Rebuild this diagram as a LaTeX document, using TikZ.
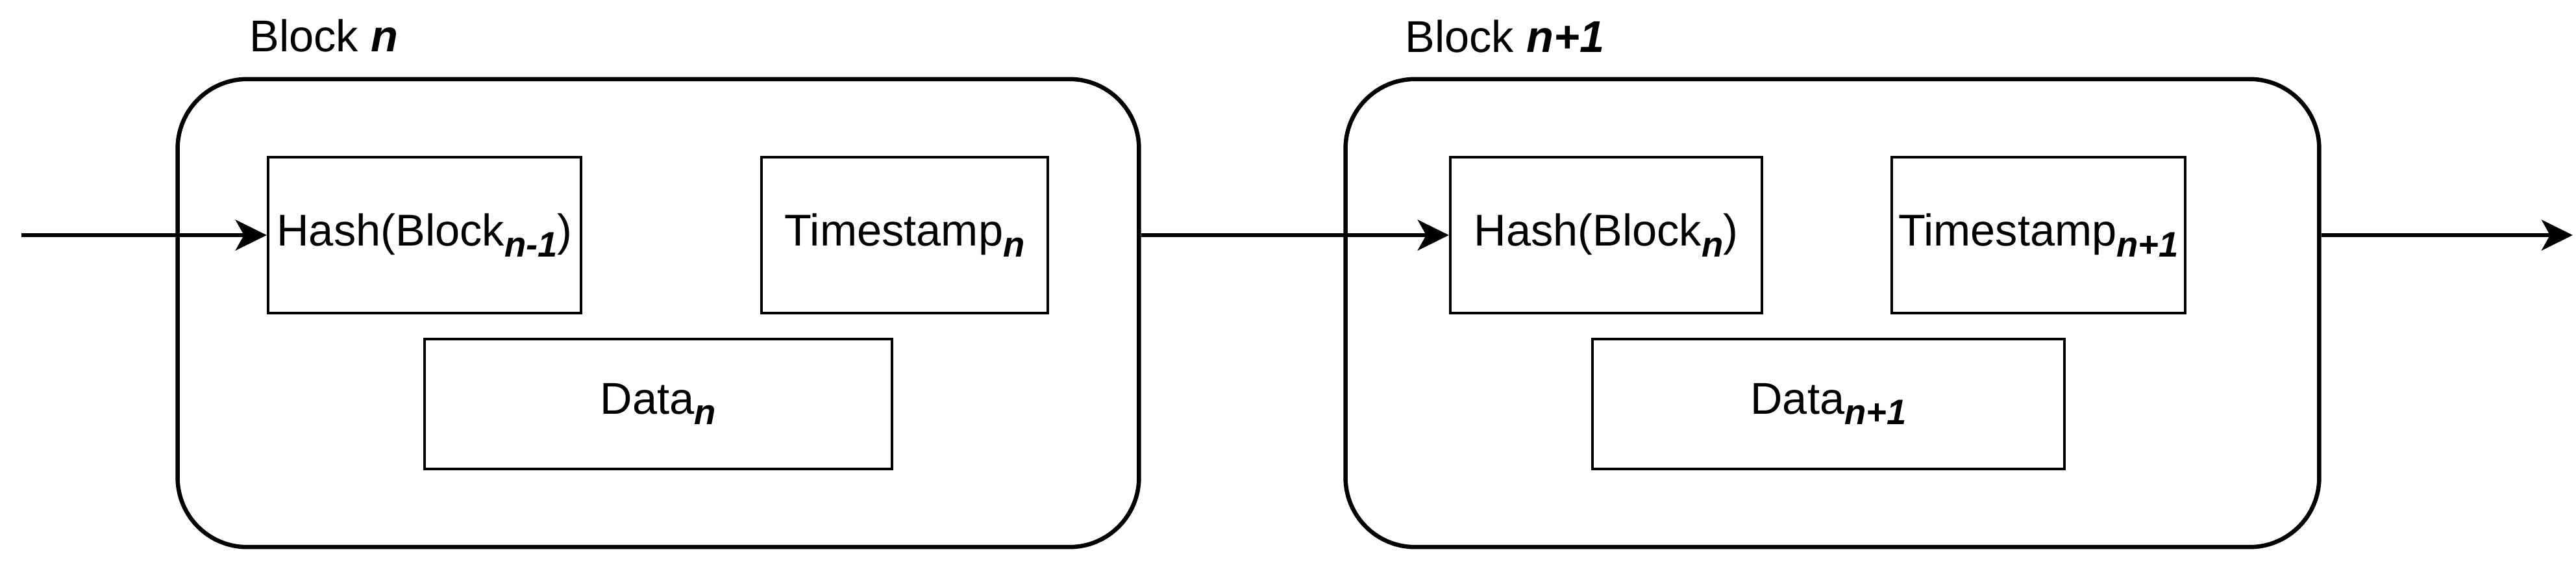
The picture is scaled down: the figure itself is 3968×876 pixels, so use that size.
\documentclass[tikz,border=0pt]{standalone}
\usepackage{fontspec}
\setmainfont{Liberation Sans}
\usetikzlibrary{arrows.meta}

\newcommand{\blksub}[1]{\raisebox{-4.7pt}{\fontsize{15.5pt}{18pt}\selectfont\bfseries\itshape #1}}

\begin{document}
\begin{tikzpicture}[x=0.01cm,y=-0.01cm,
    font=\fontsize{19.5pt}{23pt}\selectfont,
    blockbox/.style={draw,line width=0.065cm,rounded corners=1.07cm,minimum height=7.2cm,inner sep=0pt},
    fieldbox/.style={draw,line width=0.04cm,inner sep=0pt},
    link/.style={line width=0.065cm,-{Stealth[length=0.48cm,width=0.47cm,inset=0.13cm]}}]
            \useasboundingbox (0,0) rectangle (3968,876);

            % Block n
            \node[blockbox,minimum width=14.8cm] (blk1) at (1014,482) {};
            \node[anchor=base west] (lbl1) at (372,80) {Block \textbf{\textit{n}}};
            \node[fieldbox,minimum width=4.82cm,minimum height=2.4cm] (hash1) at (654,362) {Hash(Block\blksub{n-1})};
            \node[fieldbox,minimum width=4.41cm,minimum height=2.4cm] (time1) at (1393.5,362) {Timestamp\blksub{n}};
            \node[fieldbox,minimum width=7.2cm,minimum height=2cm] (data1) at (1014,622) {Data\blksub{n}};

            % Block n+1
            \node[blockbox,minimum width=14.99cm] (blk2) at (2822.5,482) {};
            \node[anchor=base west] (lbl2) at (2152,81) {Block \textbf{\textit{n+1}}};
            \node[fieldbox,minimum width=4.8cm,minimum height=2.4cm] (hash2) at (2474,362) {Hash(Block\blksub{n})};
            \node[fieldbox,minimum width=4.52cm,minimum height=2.4cm] (time2) at (3140,362) {Timestamp\blksub{n+1}};
            \node[fieldbox,minimum width=7.27cm,minimum height=2cm] (data2) at (2816.5,622) {Data\blksub{n+1}};

            % Chain links
            \coordinate (in) at (33,362);
            \coordinate (out) at (3963,362);
            \draw[link] (in) -- (hash1.west);
            \draw[link] (blk1.east |- hash1.west) -- (hash2.west);
            \draw[link] (blk2.east |- hash2.west) -- (out);
\end{tikzpicture}
\end{document}
